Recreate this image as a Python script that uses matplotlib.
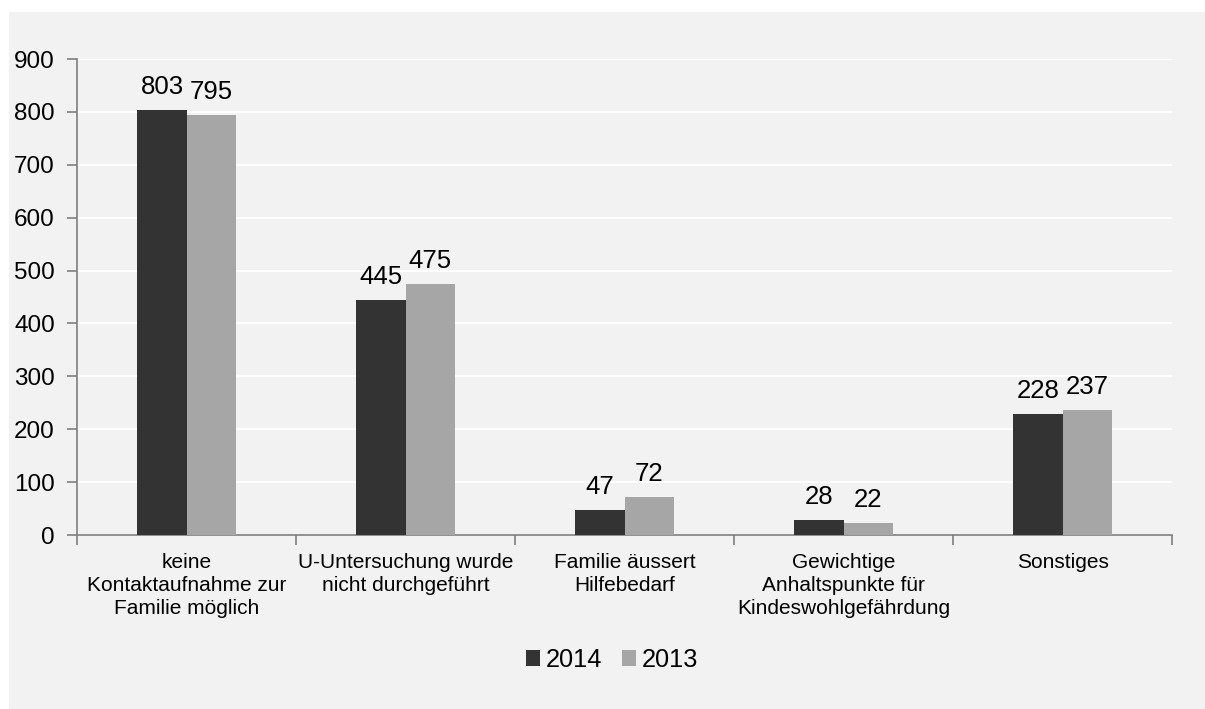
import matplotlib
matplotlib.use("Agg")
import matplotlib.pyplot as plt
import numpy as np

plt.rcParams['font.family'] = ['Liberation Sans', 'DejaVu Sans']

categories = [
    "keine\nKontaktaufnahme zur\nFamilie möglich",
    "U-Untersuchung wurde\nnicht durchgeführt",
    "Familie äussert\nHilfebedarf",
    "Gewichtige\nAnhaltspunkte für\nKindeswohlgefährdung",
    "Sonstiges",
]
values_2014 = [803, 445, 47, 28, 228]
values_2013 = [795, 475, 72, 22, 237]
series_labels = ["2014", "2013"]
yticks = [0, 100, 200, 300, 400, 500, 600, 700, 800, 900]

dark = "#333333"
light = "#a6a6a6"
panel = "#f2f2f2"

W, H = 1205, 709
fig = plt.figure(figsize=(W / 100, H / 100), dpi=100)
fig.patch.set_facecolor("white")

# light grey chart area behind everything
bg = fig.add_axes([9 / W, 0, (W - 9) / W, (H - 12) / H], zorder=0)
bg.set_facecolor(panel)
bg.set_xticks([])
bg.set_yticks([])
for s in bg.spines.values():
    s.set_visible(False)

ax = fig.add_axes([77 / W, (H - 535) / H, (1172 - 77) / W, (535 - 59) / H], zorder=2)
ax.set_facecolor(panel)

x = np.arange(len(categories))
bw = 0.224
b1 = ax.bar(x - bw / 2, values_2014, bw, color=dark, label=series_labels[0], zorder=3)
b2 = ax.bar(x + bw / 2, values_2013, bw, color=light, label=series_labels[1], zorder=3)

for bars, vals in ((b1, values_2014), (b2, values_2013)):
    for rect, v in zip(bars, vals):
        ax.annotate(str(v), (rect.get_x() + rect.get_width() / 2, v),
                    xytext=(0, 11.5), textcoords="offset points",
                    ha="center", va="baseline", fontsize=18.5, color="black")

ax.set_xlim(-0.5, len(categories) - 0.5)
ax.set_ylim(0, 900)
ax.set_yticks(yticks)
ax.set_yticklabels([str(t) for t in yticks])
ax.yaxis.grid(True, color="white", linewidth=1.5, zorder=1)
ax.set_axisbelow(True)

ax.set_xticks(x)
ax.set_xticklabels(categories, fontsize=15, linespacing=1.28)
ax.tick_params(axis="x", length=0, pad=13)
ax.set_xticks(np.arange(-0.5, len(categories)), minor=True)
ax.tick_params(axis="x", which="minor", length=7, color="#7f7f7f", width=1.2)
ax.tick_params(axis="y", length=7, color="#7f7f7f", width=1.2, labelsize=17.5, pad=9)

for s in ("top", "right"):
    ax.spines[s].set_visible(False)
for s in ("left", "bottom"):
    ax.spines[s].set_color("#7f7f7f")
    ax.spines[s].set_linewidth(1.2)

leg = ax.legend(loc="center", bbox_to_anchor=(612 / W, (H - 660) / H),
                bbox_transform=fig.transFigure,
                ncol=2, frameon=False, fontsize=18.3, handlelength=0.55,
                handleheight=0.55, handletextpad=0.25, columnspacing=0.75)

fig.savefig("out.png", dpi=100, facecolor=fig.get_facecolor())
